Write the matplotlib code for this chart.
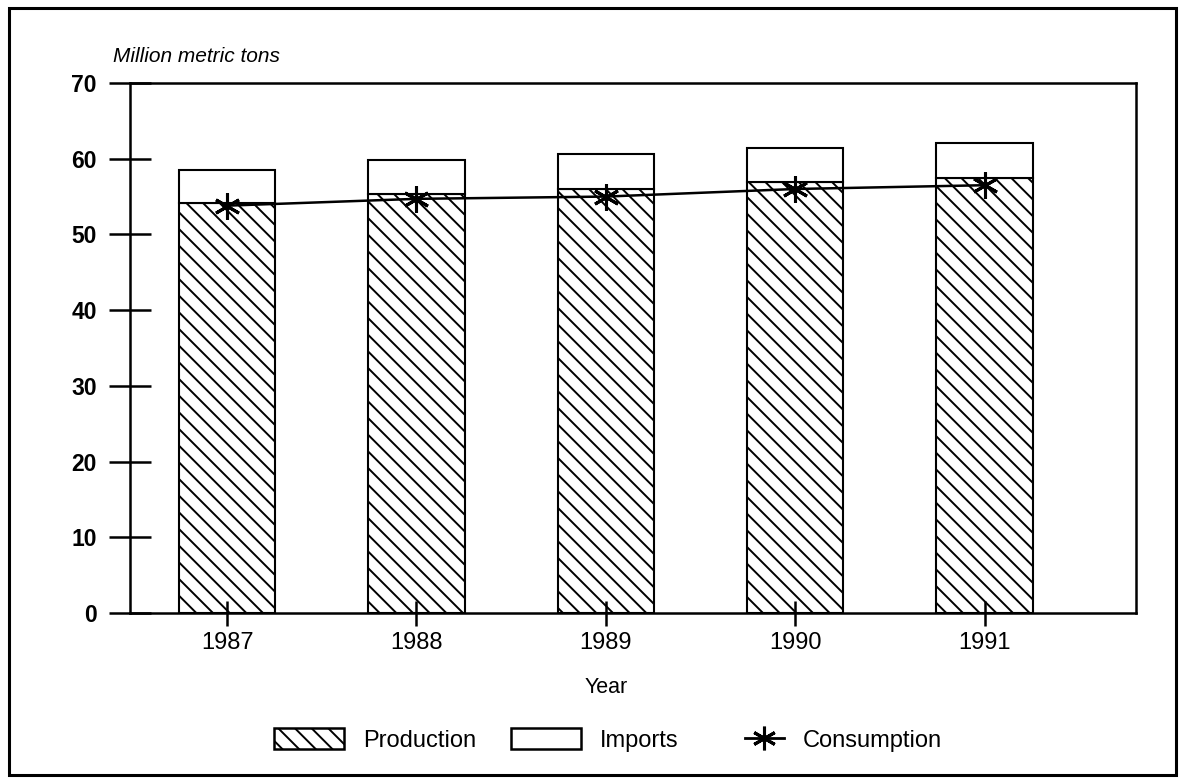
import matplotlib
matplotlib.use('Agg')
from matplotlib import pyplot as plt
from matplotlib.patches import Patch, Rectangle
from matplotlib.lines import Line2D
from matplotlib.legend_handler import HandlerLine2D
import numpy as np

# values (million metric tons)
years = ['1987', '1988', '1989', '1990', '1991']
production = [54.1, 55.4, 56.0, 56.9, 57.5]
imports = [4.4, 4.4, 4.6, 4.5, 4.6]
consumption = [53.8, 54.7, 55.0, 56.0, 56.5]
yticks = [0, 10, 20, 30, 40, 50, 60, 70]

plt.rcParams['font.family'] = ['Liberation Sans', 'DejaVu Sans']
plt.rcParams['hatch.linewidth'] = 1.4
plt.rcParams['hatch.color'] = 'black'

star = (6, 2, 0)


class ShortLine(HandlerLine2D):
    # consumption handle: short line, pushed to the right end of the slot
    def create_artists(self, legend, orig_handle, xdescent, ydescent,
                       width, height, fontsize, trans):
        w = width * 0.55
        return super().create_artists(legend, orig_handle,
                                      xdescent - (width - w), ydescent,
                                      w, height, fontsize, trans)


fig = plt.figure(figsize=(11.84, 7.8), dpi=100)
ax = fig.add_axes([130 / 1184, 1 - 613 / 780, 1006 / 1184, 530 / 780])

x = np.arange(len(years))
ax.bar(x, production, width=0.51, color='white', edgecolor='black',
       hatch='\\\\', linewidth=1.5)
ax.bar(x, imports, width=0.51, bottom=production, color='white',
       edgecolor='black', linewidth=1.5)
ax.plot(x, consumption, color='black', linewidth=1.8, marker=star,
        markersize=19, markeredgewidth=2.2, zorder=5)

ax.set_xlim(-0.513, 4.8)
ax.set_ylim(0, 70)
ax.set_xticks(x)
ax.set_xticklabels(years, fontsize=17)
ax.set_yticks(yticks)
ax.set_yticklabels([str(v) for v in yticks], fontsize=16.5, fontweight='bold')
ax.tick_params(axis='y', direction='inout', length=30, width=1.8, pad=9)
ax.tick_params(axis='x', direction='inout', length=18, width=1.8, pad=5)
for s in ax.spines.values():
    s.set_linewidth(1.8)

ax.text(2, -0.14, 'Year', transform=ax.get_xaxis_transform(),
        ha='center', va='center', fontsize=15.5)
fig.text(113 / 1184, 1 - 57 / 780, 'Million metric tons', fontsize=15,
         style='italic', ha='left', va='center')

handles = [Patch(facecolor='white', edgecolor='black', hatch='\\\\', linewidth=1.8),
           Patch(facecolor='white', edgecolor='black', linewidth=1.8),
           Line2D([], [], color='black', linewidth=2, marker=star,
                  markersize=17, markeredgewidth=2.2)]
fig.legend(handles, ['Production', 'Imports', 'Consumption'],
           loc='center', bbox_to_anchor=(608 / 1184, 1 - 740 / 780),
           ncol=3, frameon=False, fontsize=17, handlelength=2.95,
           handleheight=0.95, handletextpad=0.8, columnspacing=1.5,
           handler_map={Line2D: ShortLine()})

fig.patches.append(Rectangle((9 / 1184, 1 - 775 / 780), 1167 / 1184, 767 / 780,
                             transform=fig.transFigure, fill=False,
                             edgecolor='black', linewidth=2.2))

fig.savefig('out.png', dpi=100)
